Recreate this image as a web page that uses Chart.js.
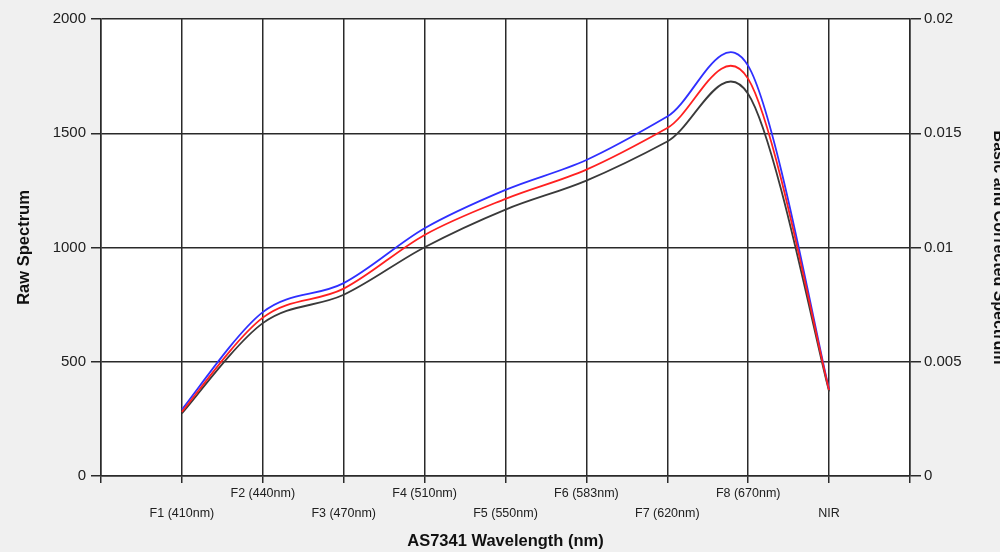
<!DOCTYPE html>
<html>
<head>
<meta charset="utf-8">
<script src="https://cdn.jsdelivr.net/npm/chart.js@4/dist/chart.umd.min.js"></script>
<style>
  html, body { margin: 0; padding: 0; background: #f0f0f0; }
  #wrap { width: 1000px; height: 552px; }
</style>
</head>
<body>
<div id="wrap"><canvas id="spectrumChart" width="1000" height="552"></canvas></div>
<script>
// ===================== Data =====================
const categories = ['F1 (410nm)', 'F2 (440nm)', 'F3 (470nm)', 'F4 (510nm)', 'F5 (550nm)',
                    'F6 (583nm)', 'F7 (620nm)', 'F8 (670nm)', 'NIR'];
// left axis
const rawSpectrum = [274, 669, 793, 1001, 1166, 1293, 1464, 1672, 370];
// right axis
const basicSpectrum = [0.00281, 0.00693, 0.0082, 0.01055, 0.01213, 0.01341, 0.01523, 0.01738, 0.00376];
const correctedSpectrum = [0.00291, 0.00717, 0.00844, 0.01084, 0.01252, 0.01383, 0.01573, 0.01795, 0.0038];

const rawTicks = [0, 500, 1000, 1500, 2000];
const spectrumTicks = [0, 0.005, 0.01, 0.015, 0.02];

const FONT = 'Liberation Sans, Arial, sans-serif';
const GRID = '#2a2a2a';
const TEXT = '#202020';
const SPLINE_TENSION = 0.5; // cardinal spline, like the WinForms chart

// ===================== Helpers =====================
function toPoints(values) {
    return values.map((v, i) => ({ x: i + 1, y: v }));
}

function staggeredLabel(value) {
    const i = value - 1;
    if (i < 0 || i >= categories.length) return '';
    // F1, F3, ... sit on the lower row
    return i % 2 === 0 ? ['', categories[i]] : [categories[i], ''];
}

const plotBackground = {
    id: 'plotBackground',
    beforeDraw(chart) {
        const { ctx, chartArea } = chart;
        ctx.save();
        ctx.fillStyle = '#ffffff';
        ctx.fillRect(chartArea.left, chartArea.top, chartArea.right - chartArea.left, chartArea.bottom - chartArea.top);
        ctx.restore();
    }
};

// swap chart.js' bezier control points for plain cardinal spline ones
const cardinalSpline = {
    id: 'cardinalSpline',
    beforeDatasetsDraw(chart) {
        const k = SPLINE_TENSION / 3;
        chart.data.datasets.forEach((ds, di) => {
            const meta = chart.getDatasetMeta(di);
            const line = meta.dataset;
            if (line && line.updateControlPoints) line.updateControlPoints(chart.chartArea, 'x');
            const pts = meta.data;
            pts.forEach((p, i) => {
                const prev = pts[i - 1] || p;
                const next = pts[i + 1] || p;
                const dx = (next.x - prev.x) * k;
                const dy = (next.y - prev.y) * k;
                p.cp1x = p.x - dx; p.cp1y = p.y - dy;
                p.cp2x = p.x + dx; p.cp2y = p.y + dy;
            });
            if (line) line._path = undefined;
        });
    }
};

// ===================== Chart Setup =====================
function setupChart() {
    const ctx = document.getElementById('spectrumChart').getContext('2d');
    new Chart(ctx, {
        type: 'line',
        data: {
            datasets: [
                {
                    label: 'Basic',
                    data: toPoints(basicSpectrum),
                    yAxisID: 'y1',
                    borderColor: '#ff2020',
                    order: 0
                },
                {
                    label: 'Corrected',
                    data: toPoints(correctedSpectrum),
                    yAxisID: 'y1',
                    borderColor: '#2f2fff',
                    order: 1
                },
                {
                    label: 'Raw',
                    data: toPoints(rawSpectrum),
                    yAxisID: 'y',
                    borderColor: '#3a3a3a',
                    order: 2
                }
            ]
        },
        options: {
            responsive: false,
            animation: false,
            layout: { padding: { top: 19, left: 0, right: 0, bottom: 0 } },
            elements: {
                line: { borderWidth: 1.8, tension: 0.5, fill: false },
                point: { radius: 0, hoverRadius: 0 }
            },
            plugins: {
                legend: { display: false },
                tooltip: { enabled: false }
            },
            scales: {
                x: {
                    type: 'linear',
                    min: 0,
                    max: 10,
                    afterBuildTicks(scale) {
                        scale.ticks = Array.from({ length: 11 }, (_, k) => ({ value: k }));
                    },
                    afterFit(scale) { scale.height = 76; },
                    grid: { color: GRID, lineWidth: 1.5, tickLength: 7 },
                    border: { color: GRID, width: 1.5 },
                    ticks: {
                        autoSkip: false,
                        maxRotation: 0,
                        padding: 1,
                        color: TEXT,
                        font: { family: FONT, size: 12.5, lineHeight: 1.6 },
                        callback: staggeredLabel
                    },
                    title: {
                        display: true,
                        text: 'AS7341 Wavelength (nm)',
                        color: '#111',
                        padding: 1,
                        font: { family: FONT, size: 16.5, weight: 'bold', lineHeight: 1.2 }
                    }
                },
                y: {
                    position: 'left',
                    min: 0,
                    max: 2000,
                    afterBuildTicks(scale) {
                        scale.ticks = rawTicks.map(v => ({ value: v }));
                    },
                    afterFit(scale) { scale.width = 101; },
                    grid: { color: GRID, lineWidth: 1.5, tickLength: 10 },
                    border: { color: GRID, width: 1.5 },
                    ticks: {
                        padding: 5,
                        color: TEXT,
                        font: { family: FONT, size: 15 },
                        callback: v => String(v)
                    },
                    title: {
                        display: true,
                        text: 'Raw Spectrum',
                        color: '#111',
                        padding: 15,
                        font: { family: FONT, size: 16.5, weight: 'bold', lineHeight: 1.2 }
                    }
                },
                y1: {
                    position: 'right',
                    min: 0,
                    max: 0.02,
                    afterBuildTicks(scale) {
                        scale.ticks = spectrumTicks.map(v => ({ value: v }));
                    },
                    afterFit(scale) { scale.width = 90; },
                    grid: { color: GRID, lineWidth: 1.5, tickLength: 11, drawOnChartArea: false },
                    border: { color: GRID, width: 1.5 },
                    ticks: {
                        padding: 3,
                        color: TEXT,
                        font: { family: FONT, size: 15 },
                        callback: v => String(+v.toFixed(3))
                    },
                    title: {
                        display: true,
                        text: 'Basic and Corrected Spectrum',
                        color: '#111',
                        padding: 0,
                        font: { family: FONT, size: 16, weight: 'bold', lineHeight: 0.25 }
                    }
                }
            }
        },
        plugins: [plotBackground, cardinalSpline]
    });
}

document.addEventListener('DOMContentLoaded', setupChart);
</script>
</body>
</html>
